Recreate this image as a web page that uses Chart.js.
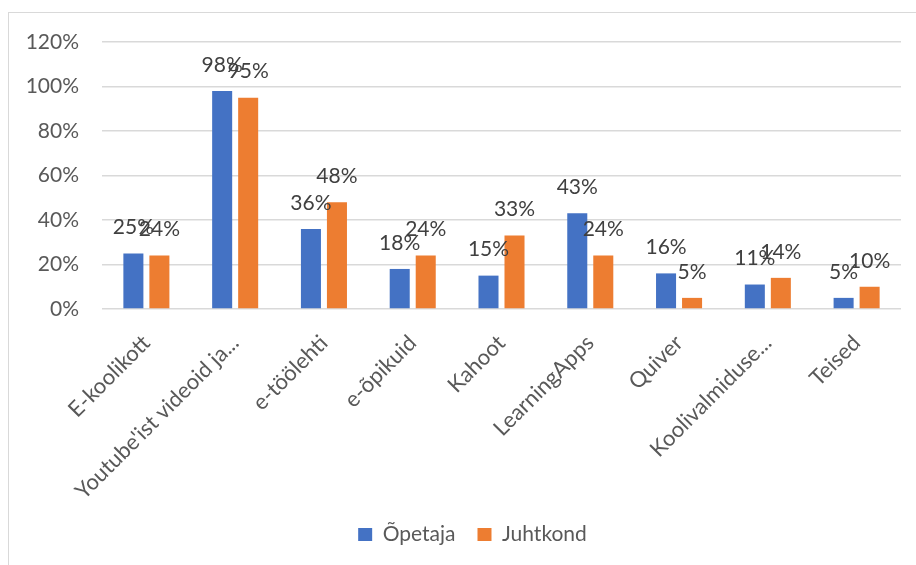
<!DOCTYPE html>
<html lang="et">
<head>
<meta charset="UTF-8">
<title>E-õppevahendid</title>
<script src="https://cdn.jsdelivr.net/npm/chart.js"></script>
<style>
  html, body { margin: 0; padding: 0; background: #fff; }
  body { width: 916px; height: 565px; overflow: hidden; position: relative; }
  .frame { position: absolute; left: 8px; top: 12px; width: 940px; height: 580px;
           border-left: 1px solid #d9d9d9; border-top: 1px solid #d9d9d9; }
  #wrap { position: absolute; left: 0; top: 0; width: 916px; height: 565px; }
</style>
</head>
<body>
<div class="frame"></div>
<div id="wrap"><canvas id="chart"></canvas></div>
<script>
const categories = ["E-koolikott", "Youtube'ist videoid ja...", "e-töölehti", "e-õpikuid",
  "Kahoot", "LearningApps", "Quiver", "Koolivalmiduse...", "Teised"];
const opetaja = [25, 98, 36, 18, 15, 43, 16, 11, 5];
const juhtkond = [24, 95, 48, 24, 33, 24, 5, 14, 10];
const seriesNames = ["Õpetaja", "Juhtkond"];
const yMin = 0, yMax = 120, yStep = 20;

const FONT = "Lato, 'Open Sans', sans-serif";

// value labels above each bar (no datalabels plugin available offline)
const barLabels = {
  id: "barLabels",
  afterDatasetsDraw(chart) {
    const ctx = chart.ctx;
    ctx.save();
    ctx.font = "21px " + FONT;
    ctx.fillStyle = "#404040";
    ctx.textAlign = "center";
    ctx.textBaseline = "middle";
    chart.data.datasets.forEach((ds, i) => {
      chart.getDatasetMeta(i).data.forEach((bar, j) => {
        ctx.fillText(ds.data[j] + "%", bar.x, bar.y - 26);
      });
    });
    ctx.restore();
  }
};

// legend in the original is centred a bit right of the canvas middle
const legendShift = {
  id: "legendShift",
  afterLayout(chart) {
    chart.legend.left += 22;
    chart.legend.right += 22;
  }
};

new Chart(document.getElementById("chart"), {
  type: "bar",
  data: {
    labels: categories,
    datasets: [
      { label: seriesNames[0], data: opetaja, backgroundColor: "#4472C4" },
      { label: seriesNames[1], data: juhtkond, backgroundColor: "#ED7D31" }
    ]
  },
  options: {
    responsive: true,
    maintainAspectRatio: false,
    animation: false,
    datasets: { bar: { categoryPercentage: 0.586, barPercentage: 0.77 } },
    layout: { padding: { top: 42, right: 15, left: 0, bottom: 10 } },
    plugins: {
      legend: {
        position: "bottom",
        labels: {
          boxWidth: 14, boxHeight: 13, padding: 22,
          color: "#595959",
          font: { family: FONT, size: 21 }
        }
      },
      tooltip: { enabled: false }
    },
    scales: {
      x: {
        grid: { display: false },
        border: { display: false },
        afterFit(scale) { scale.height = 193; },
        ticks: {
          color: "#595959",
          font: { family: FONT, size: 22 },
          minRotation: 45, maxRotation: 45,
          autoSkip: false, padding: 13
        }
      },
      y: {
        min: yMin, max: yMax,
        grid: { color: "#d9d9d9", lineWidth: 1.5, drawTicks: false },
        border: { display: false },
        afterFit(scale) { scale.width = 102; },
        ticks: {
          stepSize: yStep,
          padding: 23,
          color: "#595959",
          font: { family: FONT, size: 21 },
          callback: v => v + "%"
        }
      }
    }
  },
  plugins: [barLabels, legendShift]
});
</script>
</body>
</html>
